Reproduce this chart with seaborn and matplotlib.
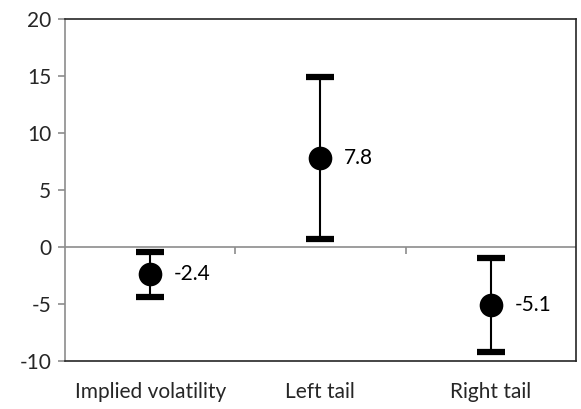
import matplotlib
matplotlib.use("Agg")
import matplotlib.pyplot as plt
import seaborn as sns
import pandas as pd

categories = ["Implied volatility", "Left tail", "Right tail"]
estimates = [-2.4, 7.8, -5.1]
lower = [-4.4, 0.7, -9.2]
upper = [-0.4, 14.9, -1.0]
labels = ["-2.4", "7.8", "-5.1"]
yticks = [-10, -5, 0, 5, 10, 15, 20]

sns.set_theme(style="white")
plt.rcParams["font.family"] = ["Lato", "DejaVu Sans"]
plt.rcParams["axes.unicode_minus"] = False

df = pd.DataFrame({"cat": categories, "est": estimates, "lo": lower, "hi": upper})

fig = plt.figure(figsize=(5.81, 4.09), dpi=100)
ax = fig.add_axes([0.112, 0.117, 0.879, 0.837])

xpos = list(range(len(categories)))
yerr = [[e - l for e, l in zip(estimates, lower)], [h - e for e, h in zip(estimates, upper)]]
ax.errorbar(xpos, estimates, yerr=yerr, fmt="none", ecolor="black", elinewidth=1.5,
            capsize=10, capthick=4.5, zorder=2)
sns.scatterplot(data=df, x="cat", y="est", ax=ax, color="black", s=290, edgecolor="black",
                linewidth=0, zorder=3, legend=False)

for x, y, t in zip(xpos, estimates, labels):
    ax.annotate(t, (x, y), xytext=(17, 0), textcoords="offset points", va="center",
                ha="left", fontsize=15, color="black")

ax.axhline(0, color="#8c8c8c", lw=1.2, zorder=1)
ax.vlines([0.5, 1.5], -0.6, 0, color="#8c8c8c", lw=1.2, zorder=1)

ax.set_xlim(-0.5, 2.5)
ax.set_ylim(-10, 20)
ax.set_yticks(yticks)
ax.set_xticks(xpos)
ax.set_xticklabels(categories)
ax.set_xlabel("")
ax.set_ylabel("")
ax.tick_params(axis="y", left=True, length=5, color="#8c8c8c", width=1.2, labelsize=15, pad=5)
ax.tick_params(axis="x", bottom=False, length=0, labelsize=15, pad=15)
for s in ax.spines.values():
    s.set_color("#262626")
    s.set_linewidth(1.2)
ax.spines["left"].set_color("#8c8c8c")

fig.savefig("out.png", dpi=100)
